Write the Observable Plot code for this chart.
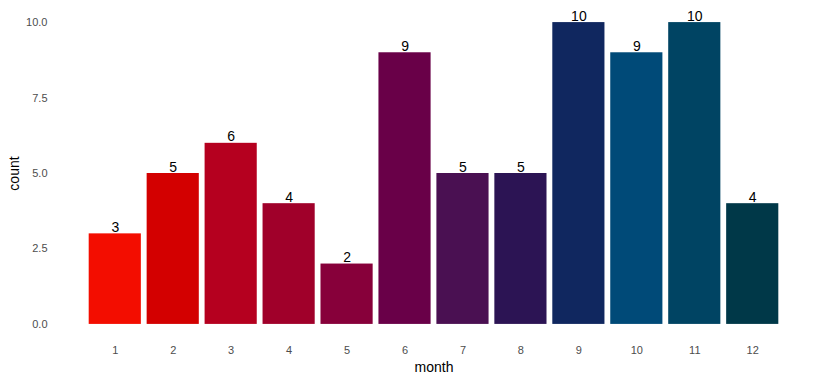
<!DOCTYPE html>
<html>
<head>
<meta charset="utf-8">
<script src="https://cdn.jsdelivr.net/npm/d3@7"></script>
<script src="https://cdn.jsdelivr.net/npm/@observablehq/plot@0.6"></script>
<style>
  html, body { margin: 0; padding: 0; background: #ffffff; }
  #chart svg { display: block; font-family: "Liberation Sans", Arial, Helvetica, sans-serif; }
</style>
</head>
<body>
<div id="chart"></div>
<script>
const months = ["1","2","3","4","5","6","7","8","9","10","11","12"];
const counts = [3, 5, 6, 4, 2, 9, 5, 5, 10, 9, 10, 4];
const colors = ["#f30d00","#d30000","#b5001f","#a0002a","#87003a","#690048","#4a1052","#2c1454","#10275f","#004a78","#004463","#003848"];
const yTicks = [0, 2.5, 5, 7.5, 10];

const data = months.map((m, i) => ({month: m, count: counts[i], color: colors[i]}));

const chart = Plot.plot({
  width: 820,
  height: 381,
  marginLeft: 80,
  marginRight: 33,
  marginTop: 7,
  marginBottom: 42,
  style: {fontFamily: "Liberation Sans, Arial, Helvetica, sans-serif", background: "#ffffff"},
  x: {domain: months, paddingInner: 0.1, paddingOuter: 0.15, round: false, label: null},
  y: {domain: [-0.5, 10.5], label: null},
  marks: [
    Plot.axisY({ticks: yTicks, tickFormat: d3.format(".1f"), tickSize: 0, tickPadding: 33, fontSize: 11, color: "#4d4d4d", label: null}),
    Plot.axisX({tickSize: 0, tickPadding: 7, fontSize: 11, color: "#4d4d4d", label: null}),
    Plot.rectY(data, {x: "month", y1: 0, y2: "count", fill: "color"}),
    Plot.text(data, {x: "month", y: "count", text: d => String(d.count), lineAnchor: "bottom", dy: -2, fontSize: 14, fill: "#000000"}),
    Plot.text(["month"], {frameAnchor: "bottom", dy: 32, lineAnchor: "bottom", fontSize: 14, fill: "#000000"}),
    Plot.text(["count"], {frameAnchor: "left", dx: -66, rotate: -90, textAnchor: "middle", lineAnchor: "middle", fontSize: 14, fill: "#000000"})
  ]
});
document.getElementById("chart").appendChild(chart);
</script>
</body>
</html>
